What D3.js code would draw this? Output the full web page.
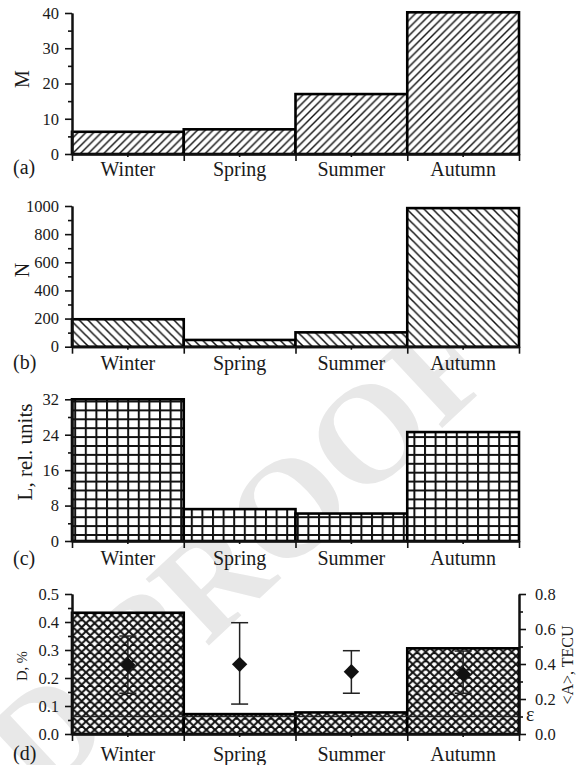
<!DOCTYPE html>
<html>
<head>
<meta charset="utf-8">
<script src="https://cdn.jsdelivr.net/npm/d3@7"></script>
<style>
  body { margin: 0; background: #fff; }
  svg { display: block; }
  text { font-family: "Liberation Serif", "Times New Roman", serif; fill: #1a1a1a; }
</style>
</head>
<body>
<svg id="chart" width="580" height="765"></svg>
<script>
// ---- data ----
const seasons = ["Winter", "Spring", "Summer", "Autumn"];

// (a) number of events M
const countM = [6.3, 7.0, 17.0, 40.2];
const ticksM = [0, 10, 20, 30, 40];
const minorM = [5, 15, 25, 35];

// (b) number of events N
const countN = [195, 48, 102, 985];
const ticksN = [0, 200, 400, 600, 800, 1000];
const minorN = [100, 300, 500, 700, 900];

// (c) L, relative units
const levelL = [32, 7.2, 6.2, 24.6];
const ticksL = [0, 8, 16, 24, 32];
const minorL = [4, 12, 20, 28];

// (d) D, % (bars) and <A>, TECU (diamonds with error bars)
const shareD = [0.433, 0.071, 0.077, 0.306];
const ticksD = [0.0, 0.1, 0.2, 0.3, 0.4, 0.5];
const minorD = [0.05, 0.15, 0.25, 0.35, 0.45];
const meanA = [0.394, 0.398, 0.356, 0.343];
const lowA = [0.233, 0.171, 0.233, 0.233];
const highA = [0.56, 0.636, 0.476, 0.474];
const epsilonA = 0.1;
const ticksA = [0.0, 0.2, 0.4, 0.6, 0.8];
const minorA = [0.1, 0.3, 0.5, 0.7];

// ---- layout ----
const svg = d3.select("#chart");
const plotLeft = 72, plotRight = 519;
const serif = '"Liberation Serif", "Times New Roman", serif';
const tickFont = 16.5;

const x = d3.scaleBand().domain(seasons).range([plotLeft, plotRight]).padding(0);
const edge = d3.scaleLinear().domain([0, seasons.length]).range([plotLeft, plotRight]);

// ---- fill patterns ----
const defs = svg.append("defs");
function pattern(id, w, h, draw) {
  const p = defs.append("pattern").attr("id", id)
    .attr("patternUnits", "userSpaceOnUse").attr("width", w).attr("height", h);
  p.append("rect").attr("width", w).attr("height", h).attr("fill", "#fff");
  draw(p, w, h);
}
pattern("hatchFwd", 7.8, 7.8, (p, w, h) => {
  p.append("path").attr("d", `M0,${h} L${w},0 M${-w / 2},${h / 2} L${w / 2},${-h / 2} M${w / 2},${h * 1.5} L${w * 1.5},${h / 2}`)
    .attr("stroke", "#111").attr("stroke-width", 1.4);
});
pattern("hatchBack", 8.6, 8.6, (p, w, h) => {
  p.append("path").attr("d", `M0,0 L${w},${h} M${-w / 2},${h / 2} L${w / 2},${h * 1.5} M${w / 2},${-h / 2} L${w * 1.5},${h / 2}`)
    .attr("stroke", "#111").attr("stroke-width", 1.5);
});
pattern("grid", 10.6, 8.9, (p, w, h) => {
  p.append("path").attr("d", `M1,0 V${h} M0,1 H${w}`)
    .attr("stroke", "#111").attr("stroke-width", 2);
});
pattern("cross", 8.6, 8.2, (p, w, h) => {
  p.append("path").attr("d", `M0,0 L${w},${h} M0,${h} L${w},0 M${-w / 2},${h / 2} L${w / 2},${h * 1.5} M${w / 2},${-h / 2} L${w * 1.5},${h / 2} M${-w / 2},${h / 2} L${w / 2},${-h / 2} M${w / 2},${h * 1.5} L${w * 1.5},${h / 2}`)
    .attr("stroke", "#111").attr("stroke-width", 2);
});

// ---- background stamp ----
const stamp = svg.append("g").attr("transform", "translate(144,706) rotate(-43)")
  .style("font-family", '"Liberation Sans", Arial, sans-serif')
  .style("font-weight", "bold").style("font-size", "140px");
stamp.append("text").attr("x", 0).attr("y", 0).style("fill", "#e8e8e8").text("PROOF");
stamp.append("text").attr("x", -39).attr("y", 0).attr("text-anchor", "end").style("fill", "#e8e8e8").text("UNCORRECTED");

// ---- panels ----
const panels = [
  { values: countM, domain: [0, 40], major: ticksM, minor: minorM, fmt: d3.format("d"),
    top: 13, bottom: 154, fill: "url(#hatchFwd)", title: "M", titleX: 29, titleY: 79, titleSize: 20,
    catGap: 5, tag: "(a)", tagY: 174 },
  { values: countN, domain: [0, 1000], major: ticksN, minor: minorN, fmt: d3.format("d"),
    top: 206, bottom: 346.7, fill: "url(#hatchBack)", title: "N", titleX: 29, titleY: 270, titleSize: 20,
    catGap: 6, tag: "(b)", tagY: 369 },
  { values: levelL, domain: [0, 32], major: ticksL, minor: minorL, fmt: d3.format("d"),
    top: 399.3, bottom: 541, fill: "url(#grid)", title: "L, rel. units", titleX: 32, titleY: 452, titleSize: 21,
    catGap: 7, tag: "(c)", tagY: 565 },
  { values: shareD, domain: [0, 0.5], major: ticksD, minor: minorD, fmt: d3.format(".1f"),
    top: 594, bottom: 734, fill: "url(#cross)", title: "D, %", titleX: 27, titleY: 666, titleSize: 14.5,
    catGap: 10, tag: "(d)", tagY: 760 }
];

function styleAxis(g, fontSize) {
  g.attr("font-family", serif).attr("font-size", fontSize);
  g.select(".domain").attr("stroke", "#111").attr("stroke-width", 2);
  g.selectAll(".tick line").attr("stroke", "#111").attr("stroke-width", 1.6);
  g.selectAll(".tick text").style("font-family", serif).style("font-size", fontSize + "px").attr("fill", "#1a1a1a");
}

panels.forEach((p, k) => {
  const y = d3.scaleLinear().domain(p.domain).range([p.bottom, p.top]);
  const g = svg.append("g");

  // bars
  g.selectAll("rect.bar").data(seasons).join("rect").attr("class", "bar")
    .attr("x", d => x(d)).attr("width", x.bandwidth())
    .attr("y", (d, i) => y(p.values[i]))
    .attr("height", (d, i) => p.bottom - y(p.values[i]))
    .attr("fill", p.fill).attr("stroke", "#000").attr("stroke-width", 2.6);

  // left axis: minor then major ticks
  g.append("g").attr("transform", `translate(${plotLeft},0)`)
    .call(d3.axisLeft(y).tickValues(p.minor).tickSize(4).tickSizeOuter(0).tickFormat(""))
    .call(a => styleAxis(a, tickFont));
  g.append("g").attr("transform", `translate(${plotLeft},0)`)
    .call(d3.axisLeft(y).tickValues(p.major).tickSize(7).tickSizeOuter(0).tickPadding(6).tickFormat(p.fmt))
    .call(a => styleAxis(a, tickFont));

  // bottom axis: season boundaries and labelled season centres
  g.append("g").attr("transform", `translate(0,${p.bottom})`)
    .call(d3.axisBottom(edge).tickValues(d3.range(seasons.length + 1)).tickSize(7).tickSizeOuter(0).tickFormat(""))
    .call(a => styleAxis(a, 20));
  g.append("g").attr("transform", `translate(0,${p.bottom})`)
    .call(d3.axisBottom(x).tickSize(3).tickSizeOuter(0).tickPadding(p.catGap))
    .call(a => styleAxis(a, 20));

  // axis title and panel tag
  g.append("text").attr("transform", `translate(${p.titleX},${p.titleY}) rotate(-90)`)
    .attr("text-anchor", "middle").style("font-size", p.titleSize + "px").text(p.title);
  g.append("text").attr("x", 13).attr("y", p.tagY).style("font-size", "20px").text(p.tag);

  if (k === 3) {
    const yA = d3.scaleLinear().domain([0, 0.8]).range([p.bottom, p.top]);

    // threshold line epsilon
    g.append("line").attr("x1", plotLeft).attr("x2", plotRight)
      .attr("y1", yA(epsilonA)).attr("y2", yA(epsilonA))
      .attr("stroke", "#222").attr("stroke-width", 1.5);

    // error bars
    const eb = g.selectAll("g.err").data(seasons).join("g").attr("class", "err");
    eb.append("line").attr("x1", d => x(d) + x.bandwidth() / 2).attr("x2", d => x(d) + x.bandwidth() / 2)
      .attr("y1", (d, i) => yA(highA[i])).attr("y2", (d, i) => yA(lowA[i]))
      .attr("stroke", "#222").attr("stroke-width", 1.5);
    [highA, lowA].forEach(arr => {
      eb.append("line").attr("x1", d => x(d) + x.bandwidth() / 2 - 8.5).attr("x2", d => x(d) + x.bandwidth() / 2 + 8.5)
        .attr("y1", (d, i) => yA(arr[i])).attr("y2", (d, i) => yA(arr[i]))
        .attr("stroke", "#222").attr("stroke-width", 1.5);
    });
    // diamonds
    g.selectAll("path.mean").data(seasons).join("path").attr("class", "mean")
      .attr("d", d3.symbol(d3.symbolSquare, 118)())
      .attr("transform", (d, i) => `translate(${x(d) + x.bandwidth() / 2},${yA(meanA[i])}) rotate(45)`)
      .attr("fill", "#111");

    // right axis
    g.append("g").attr("transform", `translate(${plotRight},0)`)
      .call(d3.axisRight(yA).tickValues(minorA).tickSize(4).tickSizeOuter(0).tickFormat(""))
      .call(a => styleAxis(a, tickFont));
    g.append("g").attr("transform", `translate(${plotRight},0)`)
      .call(d3.axisRight(yA).tickValues(ticksA).tickSize(7).tickSizeOuter(0).tickPadding(9).tickFormat(d3.format(".1f")))
      .call(a => styleAxis(a, tickFont));
    g.append("text").attr("x", 526).attr("y", yA(epsilonA) + 4.5).style("font-size", "20px").text("ε");
    g.append("text").attr("transform", `translate(573,665) rotate(-90)`)
      .attr("text-anchor", "middle").style("font-size", "16px").text("<A>, TECU");
  }
});
</script>
</body>
</html>
